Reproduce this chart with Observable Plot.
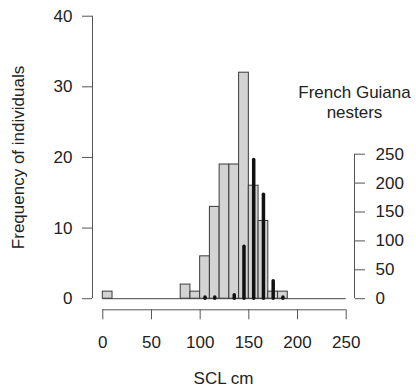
<!DOCTYPE html>
<html>
<head>
<meta charset="utf-8">
<script src="https://cdn.jsdelivr.net/npm/d3@7"></script>
<script src="https://cdn.jsdelivr.net/npm/@observablehq/plot@0.6"></script>
<style>
  html, body { margin: 0; padding: 0; background: #fff; }
  #chart svg { display: block; }
</style>
</head>
<body>
<div id="chart"></div>
<script>
// Histogram of SCL (cm): bin starts and counts (left axis)
const binStarts = [0, 80, 90, 100, 110, 120, 130, 140, 150, 160, 170, 180];
const binCounts = [1, 2, 1, 6, 13, 19, 19, 32, 16, 11, 1, 1];
const binWidth = 10;

// French Guiana nesters (right axis)
const nesterSCL = [105, 115, 135, 145, 155, 165, 175, 185];
const nesterCounts = [2, 2, 6, 90, 240, 180, 30, 2];

// Tick labels
const xTicks = [0, 50, 100, 150, 200, 250];
const leftTicks = [0, 10, 20, 30, 40];
const rightTicks = [0, 50, 100, 150, 200, 250];

const xLabel = "SCL cm";
const yLabel = "Frequency of individuals";
const rightTitle = "French Guiana\nnesters";

// right-axis value -> left-axis units
const k = 20.46 / 250;

const hist = binStarts.map((b, i) => ({x1: b, x2: b + binWidth, n: binCounts[i]}));
const nesters = nesterSCL.map((s, i) => ({scl: s, n: nesterCounts[i]}));

const insetLeft = 10.3, insetRight = 8.3, insetBottom = 11.1;
const axisStroke = "#555";
const textFill = "#222";
const fs = 17;

const chart = Plot.plot({
  width: 416,
  height: 391,
  marginLeft: 92,
  marginRight: 62,
  marginTop: 15.7,
  marginBottom: 81.7,
  insetLeft, insetRight, insetBottom, insetTop: 0,
  style: {fontFamily: "'Liberation Sans', Arial, Helvetica, sans-serif", fontSize: fs + "px", color: textFill, background: "#fff"},
  x: {domain: [0, 250]},
  y: {domain: [0, 40]},
  marks: [
    // spines
    Plot.ruleX([0], {y1: 0, y2: 40, dx: -insetLeft, stroke: axisStroke}),
    Plot.ruleY([0], {x1: 0, x2: 250, dy: insetBottom, stroke: axisStroke}),
    Plot.ruleX([250], {y1: 0, y2: 250 * k, dx: insetRight, stroke: axisStroke}),
    // axes
    Plot.axisX(xTicks, {anchor: "bottom", tickSize: 10, tickPadding: 16, label: null, stroke: axisStroke, fill: textFill, fontSize: fs}),
    Plot.axisY(leftTicks, {anchor: "left", tickSize: 10, tickPadding: 10, label: null, stroke: axisStroke, fill: textFill, fontSize: fs}),
    Plot.axisY(rightTicks.map(v => v * k), {anchor: "right", tickSize: 10, tickPadding: 11, label: null, tickFormat: v => String(Math.round(v / k)), stroke: axisStroke, fill: textFill, fontSize: fs}),
    // histogram
    Plot.ruleY([0], {x1: 0, x2: 250, stroke: "#444"}),
    Plot.rectY(hist, {x1: "x1", x2: "x2", y: "n", fill: "#d3d3d3", stroke: "#3a3a3a", strokeWidth: 1}),
    // nesters
    Plot.ruleX(nesters, {x: "scl", y1: 0, y2: d => d.n * k, stroke: "#111", strokeWidth: 3.5, strokeLinecap: "round"}),
    // labels
    Plot.text([rightTitle], {frameAnchor: "top-right", dy: 68, textAnchor: "middle", lineAnchor: "top", lineHeight: 1.18, fontSize: fs, fill: textFill}),
    Plot.text([yLabel], {frameAnchor: "left", rotate: -90, dx: -73.7, dy: -5.5, textAnchor: "middle", lineAnchor: "middle", fontSize: fs, fill: textFill}),
    Plot.text([xLabel], {frameAnchor: "bottom", dy: 68.5, textAnchor: "middle", lineAnchor: "middle", fontSize: fs, fill: textFill})
  ]
});
document.getElementById("chart").appendChild(chart);
</script>
</body>
</html>
